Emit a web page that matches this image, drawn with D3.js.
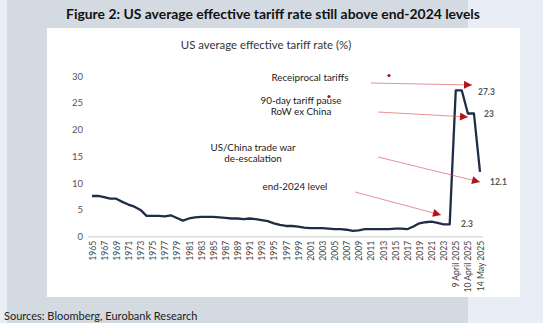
<!DOCTYPE html>
<html>
<head>
<meta charset="utf-8">
<script src="https://cdn.jsdelivr.net/npm/d3@7"></script>
<style>
  html, body { margin: 0; padding: 0; background: #e9edf5; }
  svg { display: block; font-family: Lato, "Open Sans", sans-serif; }
</style>
</head>
<body>
<svg id="chart" width="543" height="323"></svg>
<script>
// ---- Data ----
const years = d3.range(1965, 2025).map(String);
const yearValues = [
  7.6, 7.6, 7.4, 7.1, 7.1, 6.5, 6.0, 5.6, 5.0, 3.9,
  3.9, 3.9, 3.8, 4.0, 3.5, 3.0, 3.4, 3.6, 3.7, 3.7,
  3.7, 3.6, 3.5, 3.4, 3.4, 3.3, 3.4, 3.3, 3.1, 2.9,
  2.5, 2.2, 2.0, 2.0, 1.9, 1.7, 1.6, 1.6, 1.6, 1.5,
  1.4, 1.4, 1.3, 1.1, 1.2, 1.4, 1.4, 1.4, 1.4, 1.4,
  1.5, 1.5, 1.4, 1.9, 2.5, 2.7, 2.8, 2.6, 2.3, 2.3
];
const events2025 = ["9 April 2025", "9-10 April 2025", "10 April 2025", "10 April-14 May 2025", "14 May 2025"];
const eventValues = [27.3, 27.3, 23.0, 23.0, 12.1];
const categories = years.concat(events2025);
const values = yearValues.concat(eventValues);
const yTicks = [0, 5, 10, 15, 20, 25, 30];

const annotations = [
  { lines: ["Receiprocal tariffs"], target: "9 April 2025", value: 27.3, label: "27.3" },
  { lines: ["90-day tariff pause", "RoW ex China"], target: "10 April 2025", value: 23.0, label: "23" },
  { lines: ["US/China trade war", "de-escalation"], target: "14 May 2025", value: 12.1, label: "12.1" },
  { lines: ["end-2024 level"], target: "2024", value: 2.3, label: "2.3" }
];

const title = "Figure 2: US average effective tariff rate still above end-2024 levels";
const chartTitle = "US average effective tariff rate (%)";
const source = "Sources: Bloomberg, Eurobank Research";

// ---- Drawing ----
const svg = d3.select("#chart");

// backgrounds
svg.append("rect").attr("x", 0).attr("y", 0).attr("width", 543).attr("height", 323).attr("fill", "#e9edf5");
svg.append("rect").attr("x", 7).attr("y", 0).attr("width", 461).attr("height", 323).attr("fill", "#d4dae1");
svg.append("rect").attr("x", 47).attr("y", 28).attr("width", 473).attr("height", 269).attr("fill", "#ffffff");

svg.append("text").attr("x", 273).attr("y", 19).attr("text-anchor", "middle")
  .attr("font-size", 13.9).attr("font-weight", 700).attr("fill", "#111").text(title);

svg.append("text").attr("x", 266).attr("y", 49).attr("text-anchor", "middle")
  .attr("font-size", 11.4).attr("fill", "#333").text(chartTitle);

svg.append("text").attr("x", 4).attr("y", 320)
  .attr("font-size", 11).attr("fill", "#222").text(source);

const x = d3.scalePoint().domain(categories).range([92, 480]);
const y = d3.scaleLinear().domain([0, 30]).range([236.7, 76]);

// y axis labels
const yAxis = d3.axisLeft(y).tickValues(yTicks).tickSize(0).tickPadding(0);
const gy = svg.append("g").attr("transform", "translate(83,0)").call(yAxis);
gy.select(".domain").remove();
gy.selectAll("text").attr("font-size", 9.5).attr("fill", "#555").attr("font-family", "Lato, 'Open Sans', sans-serif");

// x axis
const tickCats = categories.filter((c, i) => i % 2 === 0);
const xAxis = d3.axisBottom(x).tickValues(tickCats).tickSize(0).tickPadding(0);
const gx = svg.append("g").attr("transform", `translate(0,${y(0)})`).call(xAxis);
gx.select(".domain").remove();
gx.selectAll("text")
  .attr("font-size", 8.6).attr("fill", "#444").attr("font-family", "Lato, 'Open Sans', sans-serif")
  .attr("text-anchor", "end").attr("dy", "0.35em")
  .attr("transform", "translate(0,4) rotate(-90)").attr("x", 0).attr("y", 0);

svg.append("line").attr("x1", 88).attr("x2", 483).attr("y1", y(0)).attr("y2", y(0))
  .attr("stroke", "#dcdcdc").attr("stroke-width", 1.5);

// line
const line = d3.line().x((d, i) => x(categories[i])).y(d => y(d));
svg.append("path").datum(values).attr("d", line)
  .attr("fill", "none").attr("stroke", "#1f2e46").attr("stroke-width", 2.3)
  .attr("stroke-linejoin", "round");

// arrowhead marker
svg.append("defs").append("marker").attr("id", "arr")
  .attr("viewBox", "0 0 10 10").attr("refX", 10).attr("refY", 5)
  .attr("markerWidth", 10).attr("markerHeight", 8).attr("markerUnits", "userSpaceOnUse")
  .attr("orient", "auto")
  .append("path").attr("d", "M0,0 L10,5 L0,10 Z").attr("fill", "#b5121b");

// annotation placement
const annTextPos = [
  { cx: 310, y0: 81 }, { cx: 301, y0: 104 }, { cx: 253, y0: 151 }, { cx: 295, y0: 190 }
];
const arrowStarts = [[371, 83], [378, 112], [378, 157], [355, 192]];
const arrowEnds = [[472, 85], [468, 117], [480, 182], [441, 215]];
const labelPos = [[478, 95], [484, 117], [490, 185], [461, 227]];
const dots = [[389, 75.5], [329, 96.5]];

annotations.forEach((a, i) => {
  const t = svg.append("text").attr("text-anchor", "middle").attr("font-size", 9.8).attr("fill", "#222");
  a.lines.forEach((l, j) => {
    t.append("tspan").attr("x", annTextPos[i].cx).attr("y", annTextPos[i].y0 + j * 10.5).text(l);
  });
  svg.append("line")
    .attr("x1", arrowStarts[i][0]).attr("y1", arrowStarts[i][1])
    .attr("x2", arrowEnds[i][0]).attr("y2", arrowEnds[i][1])
    .attr("stroke", "#d8525a").attr("stroke-width", 0.8).attr("stroke-opacity", 0.8)
    .attr("marker-end", "url(#arr)");
  svg.append("text").attr("x", labelPos[i][0]).attr("y", labelPos[i][1])
    .attr("font-size", 8.5).attr("font-weight", 700).attr("fill", "#555").text(a.label);
});
dots.forEach(d => {
  svg.append("circle").attr("cx", d[0]).attr("cy", d[1]).attr("r", 1.6).attr("fill", "#a31621");
});
</script>
</body>
</html>
